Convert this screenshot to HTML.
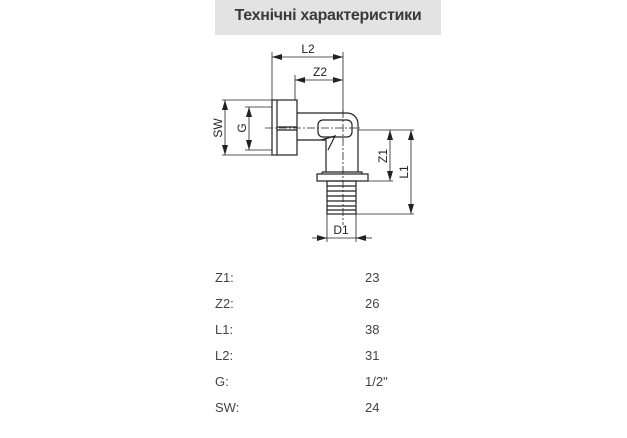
<!DOCTYPE html>
<html><head><meta charset="utf-8"><style>
body{margin:0;width:627px;height:438px;background:#fff;overflow:hidden;font-family:"Liberation Sans","DejaVu Sans",sans-serif;}
.hdr{position:absolute;left:215px;top:0;width:226px;height:35px;background:#e3e3e3;}
.hdr span{position:absolute;left:0;right:0;top:7px;text-align:center;font-size:16px;letter-spacing:-0.3px;font-weight:bold;color:#3a3a3a;}
.r{position:absolute;font-size:13px;color:#444;}
</style></head><body>
<div class="hdr"><span>Технічні характеристики</span></div>
<svg width="627" height="438" style="position:absolute;left:0;top:0" font-family="Liberation Sans, sans-serif" font-size="12">
<defs><marker id="a" viewBox="0 0 10 6" refX="10" refY="3" markerWidth="10" markerHeight="6" orient="auto-start-reverse" markerUnits="userSpaceOnUse"><path d="M0,0L10,3L0,6z" fill="#222"/></marker></defs>
<g stroke="#222" stroke-width="0.8" fill="none">
<line x1="272" y1="52" x2="272" y2="100"/><line x1="295" y1="75" x2="295" y2="100"/><line x1="343" y1="52" x2="343" y2="113"/>
<line x1="222" y1="100" x2="272" y2="100"/><line x1="222" y1="155" x2="272" y2="155"/>
<line x1="245" y1="107" x2="272" y2="107"/><line x1="245" y1="150" x2="272" y2="150"/>
<line x1="358" y1="130" x2="414" y2="130"/><line x1="368" y1="181" x2="393" y2="181"/><line x1="356" y1="214" x2="414" y2="214"/>
<line x1="327" y1="214" x2="327" y2="242"/><line x1="356" y1="214" x2="356" y2="242"/>
<line x1="272" y1="57" x2="343" y2="57" marker-start="url(#a)" marker-end="url(#a)"/>
<line x1="295" y1="80" x2="343" y2="80" marker-start="url(#a)" marker-end="url(#a)"/>
<line x1="225" y1="100" x2="225" y2="155" marker-start="url(#a)" marker-end="url(#a)"/>
<line x1="249" y1="107" x2="249" y2="150" marker-start="url(#a)" marker-end="url(#a)"/>
<line x1="390" y1="130" x2="390" y2="181" marker-start="url(#a)" marker-end="url(#a)"/>
<line x1="411" y1="130" x2="411" y2="214" marker-start="url(#a)" marker-end="url(#a)"/>
<line x1="312" y1="238" x2="327" y2="238" marker-end="url(#a)"/>
<line x1="372" y1="238" x2="356" y2="238" marker-end="url(#a)"/>
<line x1="327" y1="238" x2="356" y2="238"/>
<g stroke-width="1.2">
<rect x="272" y="100" width="25" height="55"/><line x1="277" y1="100" x2="277" y2="155"/>
<line x1="277" y1="127" x2="297" y2="127"/><line x1="277" y1="130" x2="297" y2="130"/>
<path d="M297,113 H347 A11,11 0 0 1 358,124 V172 M297,140 H326 V172"/>
<rect x="318" y="120" width="34" height="17" rx="5"/>
<path d="M321,140 L335,136 L328,150"/>
<rect x="317" y="174" width="51" height="7"/>
<path d="M322,172 H362 V174 M322,172 V174"/>
<rect x="327" y="181" width="29" height="33"/>
<line x1="327" y1="186" x2="356" y2="186"/><line x1="327" y1="191" x2="356" y2="191"/><line x1="327" y1="196" x2="356" y2="196"/><line x1="327" y1="201" x2="356" y2="201"/><line x1="327" y1="206" x2="356" y2="206"/><line x1="327" y1="210" x2="356" y2="210"/>
</g>
<line x1="265" y1="128" x2="360" y2="128" stroke-dasharray="8,2,2,2"/>
<line x1="343" y1="110" x2="343" y2="225" stroke-dasharray="8,2,2,2"/>
</g>
<g fill="#222">
<text x="308" y="53" text-anchor="middle">L2</text>
<text x="320" y="76" text-anchor="middle">Z2</text>
<text x="341" y="234" text-anchor="middle">D1</text>
<text transform="translate(222,128) rotate(-90)" text-anchor="middle">SW</text>
<text transform="translate(246,128) rotate(-90)" text-anchor="middle">G</text>
<text transform="translate(387,156) rotate(-90)" text-anchor="middle">Z1</text>
<text transform="translate(408,172) rotate(-90)" text-anchor="middle">L1</text>
</g>
</svg>
<div class="r" style="left:215px;top:270px">Z1:</div><div class="r" style="left:365px;top:270px">23</div>
<div class="r" style="left:215px;top:296px">Z2:</div><div class="r" style="left:365px;top:296px">26</div>
<div class="r" style="left:215px;top:322px">L1:</div><div class="r" style="left:365px;top:322px">38</div>
<div class="r" style="left:215px;top:348px">L2:</div><div class="r" style="left:365px;top:348px">31</div>
<div class="r" style="left:215px;top:374px">G:</div><div class="r" style="left:365px;top:374px">1/2"</div>
<div class="r" style="left:215px;top:400px">SW:</div><div class="r" style="left:365px;top:400px">24</div>
</body></html>
